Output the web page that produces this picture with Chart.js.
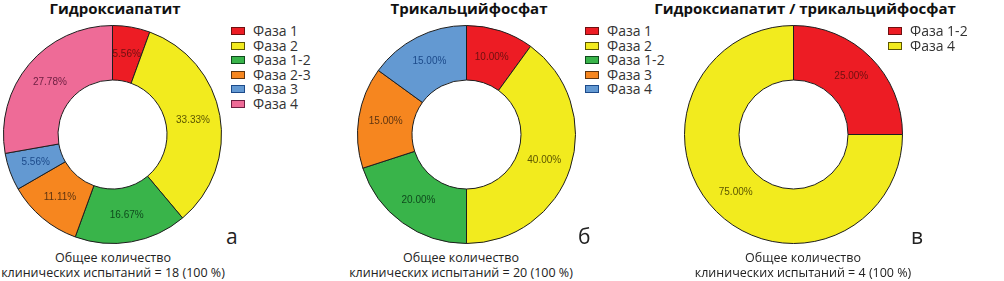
<!DOCTYPE html>
<html>
<head>
<meta charset="utf-8">
<script src="https://cdn.jsdelivr.net/npm/chart.js@4.4.1/dist/chart.umd.min.js"></script>
<style>
body { margin: 0; background: #fff; width: 1004px; height: 281px; position: relative; overflow: hidden; font-family: 'Open Sans', sans-serif; color: #222; }
canvas { position: absolute; }
.title { position: absolute; top: -2px; font-weight: bold; font-size: 15px; white-space: nowrap; transform: translateX(-50%); color: #111; }
.note { position: absolute; top: 251px; font-size: 12.5px; line-height: 14.5px; text-align: center; white-space: nowrap; transform: translateX(-50%); color: #222; }
.letter { position: absolute; top: 222px; font-size: 21px; color: #222; }
.legend { position: absolute; top: 24px; }
.legend .row { height: 14.5px; line-height: 14.5px; font-size: 14px; white-space: nowrap; position: relative; padding-left: 22px; color: #333; }
.legend .box { position: absolute; left: 0; top: 3px; width: 12px; height: 6px; border: 1px solid; }
</style>
</head>
<body>
<div class="title" style="left:115px">Гидроксиапатит</div>
<div class="title" style="left:469px">Трикальцийфосфат</div>
<div class="title" style="left:805px">Гидроксиапатит / трикальцийфосфат</div>

<canvas id="chartA" width="219" height="219" style="left:3px;top:25px"></canvas>
<canvas id="chartB" width="219" height="219" style="left:357px;top:25px"></canvas>
<canvas id="chartC" width="219" height="219" style="left:684px;top:25px"></canvas>

<div class="legend" id="legendA" style="left:231px"></div>
<div class="legend" id="legendB" style="left:585px"></div>
<div class="legend" id="legendC" style="left:888px"></div>

<div class="letter" style="left:226px">а</div>
<div class="letter" style="left:578px">б</div>
<div class="letter" style="left:911px">в</div>

<div class="note" style="left:113px">Общее количество<br>клинических испытаний = 18 (100 %)</div>
<div class="note" style="left:461px">Общее количество<br>клинических испытаний = 20 (100 %)</div>
<div class="note" style="left:803px">Общее количество<br>клинических испытаний = 4 (100 %)</div>

<script>
const RED = '#ED1C24';
const YELLOW = '#F2EB1E';
const GREEN = '#39B44A';
const ORANGE = '#F6861F';
const BLUE = '#6399D2';
const PINK = '#EE6B97';

const DARK = {
    [RED]: '#6E1010',
    [YELLOW]: '#5C5600',
    [GREEN]: '#0F4A1D',
    [ORANGE]: '#5E3410',
    [BLUE]: '#1C4A8A',
    [PINK]: '#6B1E40'
};

// Гидроксиапатит: число испытаний по фазам (всего 18)
const phasesA = ['Фаза 1', 'Фаза 2', 'Фаза 1-2', 'Фаза 2-3', 'Фаза 3', 'Фаза 4'];
const countsA = [1, 6, 3, 2, 1, 5];
const colorsA = [RED, YELLOW, GREEN, ORANGE, BLUE, PINK];

// Трикальцийфосфат (всего 20)
const phasesB = ['Фаза 1', 'Фаза 2', 'Фаза 1-2', 'Фаза 3', 'Фаза 4'];
const countsB = [2, 8, 4, 3, 3];
const colorsB = [RED, YELLOW, GREEN, ORANGE, BLUE];

// Гидроксиапатит / трикальцийфосфат (всего 4)
const phasesC = ['Фаза 1-2', 'Фаза 4'];
const countsC = [1, 3];
const colorsC = [RED, YELLOW];

const sliceLabels = {
    id: 'sliceLabels',
    afterDatasetsDraw(chart) {
        const ctx = chart.ctx;
        const ds = chart.data.datasets[0];
        const total = ds.data.reduce((a, b) => a + b, 0);
        chart.getDatasetMeta(0).data.forEach((arc, i) => {
            const p = arc.tooltipPosition();
            ctx.save();
            ctx.font = '10px "Liberation Sans", Arial, sans-serif';
            ctx.fillStyle = DARK[ds.backgroundColor[i]];
            ctx.textAlign = 'center';
            ctx.textBaseline = 'middle';
            ctx.fillText((ds.data[i] / total * 100).toFixed(2) + '%', p.x, p.y);
            ctx.restore();
        });
    }
};

function makeDonut(id, labels, data, colors) {
    return new Chart(document.getElementById(id), {
        type: 'doughnut',
        data: {
            labels: labels,
            datasets: [{
                data: data,
                backgroundColor: colors,
                borderColor: '#1E1E1E',
                borderWidth: 1,
                hoverOffset: 0
            }]
        },
        options: {
            responsive: false,
            animation: false,
            events: [],
            cutout: '50%',
            layout: { padding: 0 },
            plugins: {
                legend: { display: false },
                tooltip: { enabled: false },
                title: { display: false }
            }
        },
        plugins: [sliceLabels]
    });
}

function makeLegend(id, labels, colors) {
    const el = document.getElementById(id);
    labels.forEach((lab, i) => {
        const row = document.createElement('div');
        row.className = 'row';
        row.innerHTML = '<span class="box" style="background:' + colors[i] + ';border-color:' + DARK[colors[i]] + '"></span>' + lab;
        el.appendChild(row);
    });
}

makeDonut('chartA', phasesA, countsA, colorsA);
makeDonut('chartB', phasesB, countsB, colorsB);
makeDonut('chartC', phasesC, countsC, colorsC);

makeLegend('legendA', phasesA, colorsA);
makeLegend('legendB', phasesB, colorsB);
makeLegend('legendC', phasesC, colorsC);
</script>
</body>
</html>
